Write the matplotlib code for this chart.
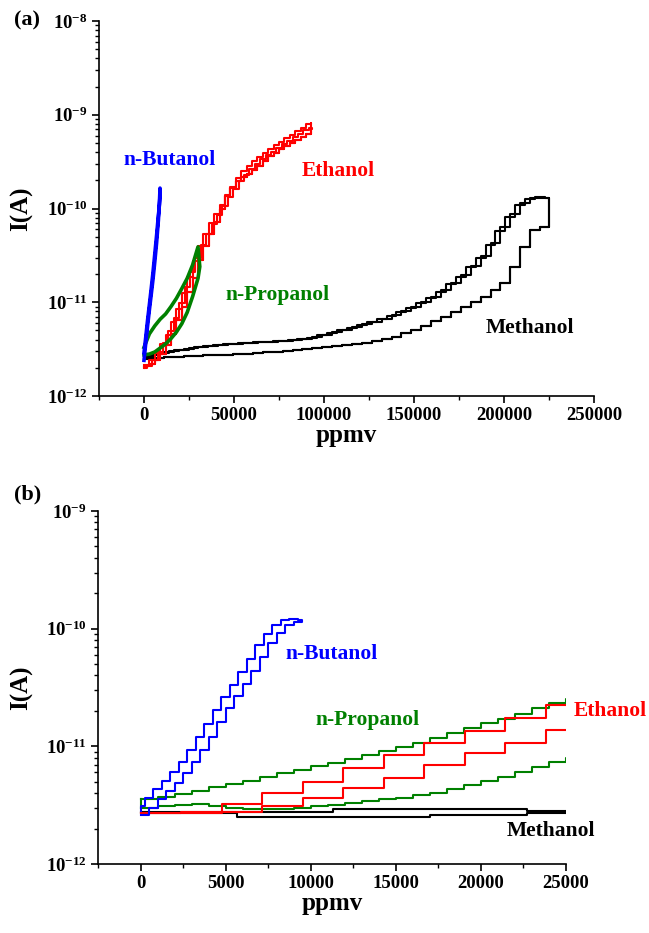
import numpy as np
import matplotlib
matplotlib.use('Agg')
import matplotlib.pyplot as plt
from matplotlib.ticker import (MultipleLocator, FixedLocator, LogLocator, FuncFormatter,
                               NullFormatter)

plt.rcParams['font.family'] = ['Liberation Serif', 'DejaVu Serif']
plt.rcParams['font.weight'] = 'bold'
plt.rcParams['mathtext.fontset'] = 'custom'
plt.rcParams['mathtext.rm'] = 'Liberation Serif:bold'
plt.rcParams['mathtext.bf'] = 'Liberation Serif:bold'
plt.rcParams['mathtext.it'] = 'Liberation Serif:bold:italic'

# ---------------- tick values ----------------
xticks_a = [0, 50000, 100000, 150000, 200000, 250000]
yticks_a = [1e-12, 1e-11, 1e-10, 1e-9, 1e-8]
xticks_b = [0, 5000, 10000, 15000, 20000, 25000]
yticks_b = [1e-12, 1e-11, 1e-10, 1e-9]

# ---------------- Panel (a) data ----------------
meth_a_up1_x = [0, 5500, 11000, 16500, 22000, 27500, 33000, 38500, 44000, 49500, 55000, 60500,
                66000, 71500, 77000, 82500, 88000, 93500, 99000, 104500, 110000, 115500, 121000,
                126500, 132000, 137500, 143000, 148500, 154000, 159500, 165000, 170500, 176000,
                181500, 187000, 192500, 198000, 203500, 209000, 214500, 220000, 225000]
meth_a_up1_y = [2.7e-12, 2.82e-12, 2.95e-12, 3.08e-12, 3.2e-12, 3.3e-12, 3.4e-12, 3.48e-12,
                3.55e-12, 3.62e-12, 3.7e-12, 3.75e-12, 3.8e-12, 3.85e-12, 3.9e-12, 3.97e-12,
                4.05e-12, 4.25e-12, 4.5e-12, 4.8e-12, 5.1e-12, 5.45e-12, 5.8e-12, 6.2e-12, 6.7e-12,
                7.3e-12, 8.0e-12, 8.9e-12, 1.0e-11, 1.15e-11, 1.35e-11, 1.6e-11, 1.95e-11, 2.45e-11,
                3.1e-11, 4.3e-11, 6.3e-11, 8.7e-11, 1.15e-10, 1.28e-10, 1.3e-10, 1.22e-10]
meth_a_down_x = [225000, 220000, 214500, 209000, 203500, 198000, 192500, 187000, 181500, 176000,
                 170500, 165000, 159500, 154000, 148500, 143000, 137500, 132000, 126500, 121000,
                 115500, 110000, 104500, 99000, 93500, 88000, 82500, 77000, 71500, 66000, 60500,
                 55000, 49500, 44000, 38500, 33000, 27500, 22000, 16500, 11000, 5500, 0]
meth_a_down_y = [6.3e-11, 5.9e-11, 3.9e-11, 2.4e-11, 1.6e-11, 1.35e-11, 1.13e-11, 1.0e-11,
                 9.0e-12, 7.8e-12, 7.0e-12, 6.3e-12, 5.6e-12, 5.1e-12, 4.7e-12, 4.3e-12, 4.05e-12,
                 3.85e-12, 3.7e-12, 3.57e-12, 3.47e-12, 3.38e-12, 3.3e-12, 3.23e-12, 3.16e-12,
                 3.1e-12, 3.04e-12, 2.98e-12, 2.93e-12, 2.88e-12, 2.84e-12, 2.8e-12, 2.77e-12,
                 2.75e-12, 2.72e-12, 2.7e-12, 2.66e-12, 2.62e-12, 2.58e-12, 2.55e-12, 2.52e-12,
                 2.5e-12]
meth_a_up2_x = [2750, 8250, 13750, 19250, 24750, 30250, 35750, 41250, 46750, 52250, 57750, 63250,
                68750, 74250, 79750, 85250, 90750, 96250, 101750, 107250, 112750, 118250, 123750,
                129250, 134750, 140250, 145750, 151250, 156750, 162250, 167750, 173250, 178750,
                184250, 189750, 195250, 200750, 206250, 211750, 217250, 222500, 225000]
meth_a_up2_y = [2.72e-12, 2.86e-12, 3.0e-12, 3.12e-12, 3.24e-12, 3.34e-12, 3.43e-12, 3.5e-12,
                3.57e-12, 3.64e-12, 3.7e-12, 3.75e-12, 3.8e-12, 3.86e-12, 3.93e-12, 4.02e-12,
                4.18e-12, 4.42e-12, 4.7e-12, 5.0e-12, 5.35e-12, 5.7e-12, 6.1e-12, 6.55e-12, 7.1e-12,
                7.8e-12, 8.7e-12, 9.8e-12, 1.12e-11, 1.3e-11, 1.55e-11, 1.88e-11, 2.35e-11, 3.0e-11,
                4.1e-11, 5.8e-11, 8.2e-11, 1.08e-10, 1.25e-10, 1.32e-10, 1.28e-10, 1.2e-10]

eth_a_up1_x = [0, 3000, 6000, 9000, 12000, 15000, 18000, 21000, 24000, 27000, 30000, 33000,
               36000, 39000, 42000, 45000, 48000, 51000, 54000, 57000, 60000, 63000, 66000,
               69000, 72000, 75000, 78000, 81000, 84000, 87000, 90000, 93000]
eth_a_up1_y = [2.15e-12, 2.4e-12, 2.9e-12, 3.6e-12, 4.5e-12, 6.2e-12, 8.5e-12, 1.25e-11, 1.85e-11,
               2.75e-11, 4.0e-11, 5.4e-11, 7.0e-11, 8.8e-11, 1.1e-10, 1.38e-10, 1.7e-10, 2.1e-10,
               2.5e-10, 2.85e-10, 3.2e-10, 3.55e-10, 3.9e-10, 4.3e-10, 4.7e-10, 5.1e-10, 5.6e-10,
               6.1e-10, 6.7e-10, 7.3e-10, 8.0e-10, 8.2e-10]
eth_a_down_x = [93000, 90000, 87000, 84000, 81000, 78000, 75000, 72000, 69000, 66000, 63000,
                60000, 57000, 54000, 51000, 48000, 45000, 42000, 39000, 36000, 33000, 30000,
                27000, 24000, 21000, 18000, 15000, 12000, 9000, 6000, 3000, 0]
eth_a_down_y = [6.2e-10, 5.8e-10, 5.4e-10, 5.0e-10, 4.65e-10, 4.3e-10, 3.95e-10, 3.6e-10, 3.2e-10,
                2.85e-10, 2.6e-10, 2.35e-10, 2.15e-10, 1.95e-10, 1.65e-10, 1.35e-10, 1.0e-10,
                7.2e-11, 5.4e-11, 4.0e-11, 2.8e-11, 1.8e-11, 1.3e-11, 9.0e-12, 6.4e-12, 4.6e-12,
                3.5e-12, 2.8e-12, 2.45e-12, 2.2e-12, 2.1e-12, 2.0e-12]
eth_a_up2_x = [1500, 4500, 7500, 10500, 13500, 16500, 19500, 22500, 25500, 28500, 31500, 34500,
               37500, 40500, 43500, 46500, 49500, 52500, 55500, 58500, 61500, 64500, 67500,
               70500, 73500, 76500, 79500, 82500, 85500, 88500, 91500, 93500]
eth_a_up2_y = [2.1e-12, 2.45e-12, 2.95e-12, 3.7e-12, 4.9e-12, 6.8e-12, 9.8e-12, 1.45e-11, 2.1e-11,
               3.0e-11, 4.1e-11, 5.4e-11, 6.9e-11, 8.6e-11, 1.07e-10, 1.32e-10, 1.6e-10, 1.95e-10,
               2.3e-10, 2.65e-10, 3.0e-10, 3.35e-10, 3.7e-10, 4.05e-10, 4.45e-10, 4.85e-10,
               5.3e-10, 5.8e-10, 6.3e-10, 6.8e-10, 7.2e-10, 7.0e-10]

prop_a_up_x = [0, 3000, 6000, 9000, 12000, 15000, 18000, 21000, 24000, 27000, 30000]
prop_a_up_y = [3.3e-12, 4.6e-12, 5.6e-12, 6.6e-12, 7.5e-12, 9.0e-12, 1.1e-11, 1.4e-11, 1.8e-11,
               2.5e-11, 3.9e-11]
prop_a_down_x = [31000, 30000, 27000, 24000, 21000, 18000, 15000, 12000, 9000, 6000, 3000, 0]
prop_a_down_y = [2.4e-11, 1.8e-11, 1.15e-11, 7.8e-12, 5.9e-12, 4.8e-12, 4.1e-12, 3.6e-12, 3.25e-12,
                 2.95e-12, 2.8e-12, 2.75e-12]

but_a_up_x = [0, 1000, 2000, 3000, 4000, 5000, 6000, 7000, 8000, 8600, 8900]
but_a_up_y = [2.4e-12, 3.7e-12, 5.6e-12, 8.3e-12, 1.2e-11, 1.75e-11, 2.7e-11, 4.3e-11, 7.5e-11,
              1.2e-10, 1.65e-10]
but_a_down_x = [8900, 8600, 8000, 7000, 6000, 5000, 4000, 3000, 2000, 1000, 0]
but_a_down_y = [1.4e-10, 1.1e-10, 8.5e-11, 5.2e-11, 3.3e-11, 2.1e-11, 1.4e-11, 9.5e-12, 6.5e-12,
                4.3e-12, 2.9e-12]

# ---------------- Panel (b) data ----------------
but_b_up_x = [0, 500, 1000, 1500, 2000, 2500, 3000, 3500, 4000, 4500, 5000, 5500, 6000, 6500,
              7000, 7500, 8000, 8500, 9000, 9500]
but_b_up_y = [2.6e-12, 3.0e-12, 3.55e-12, 4.15e-12, 4.9e-12, 5.95e-12, 7.4e-12, 9.3e-12, 1.2e-11,
              1.6e-11, 2.1e-11, 2.7e-11, 3.4e-11, 4.4e-11, 5.7e-11, 7.5e-11, 9.2e-11, 1.07e-10,
              1.15e-10, 1.19e-10]
but_b_down_x = [9250, 8750, 8250, 7750, 7250, 6750, 6250, 5750, 5250, 4750, 4250, 3750, 3250,
                2750, 2250, 1750, 1250, 750, 250, 0]
but_b_down_y = [1.21e-10, 1.18e-10, 1.08e-10, 9.0e-11, 7.2e-11, 5.55e-11, 4.3e-11, 3.35e-11,
                2.65e-11, 2.05e-11, 1.56e-11, 1.19e-11, 9.3e-12, 7.4e-12, 6.05e-12, 5.05e-12,
                4.3e-12, 3.65e-12, 3.1e-12, 2.8e-12]

prop_b_x = [0, 1000, 2000, 3000, 4000, 5000, 6000, 7000, 8000, 9000, 10000, 11000, 12000, 13000,
            14000, 15000, 16000, 17000, 18000, 19000, 20000, 21000, 22000, 23000, 24000, 25000, 26000]
prop_b_upper = [3.6e-12, 3.7e-12, 3.95e-12, 4.2e-12, 4.5e-12, 4.8e-12, 5.1e-12, 5.5e-12, 5.9e-12,
                6.3e-12, 6.8e-12, 7.2e-12, 7.8e-12, 8.5e-12, 9.2e-12, 9.8e-12, 1.07e-11, 1.17e-11,
                1.29e-11, 1.42e-11, 1.57e-11, 1.72e-11, 1.9e-11, 2.13e-11, 2.35e-11, 2.52e-11, 2.6e-11]
prop_b_lower = [3.0e-12, 3.1e-12, 3.2e-12, 3.25e-12, 3.1e-12, 3.0e-12, 2.95e-12, 2.95e-12, 2.95e-12,
                3.0e-12, 3.1e-12, 3.2e-12, 3.3e-12, 3.4e-12, 3.55e-12, 3.65e-12, 3.85e-12, 4.05e-12,
                4.35e-12, 4.65e-12, 5.1e-12, 5.5e-12, 6.1e-12, 6.7e-12, 7.4e-12, 8.0e-12, 8.3e-12]

eth_b_x = [0, 2380, 4760, 7140, 9520, 11900, 14280, 16660, 19040, 21420, 23800, 26000]
eth_b_upper = [2.72e-12, 2.75e-12, 3.26e-12, 4.05e-12, 5.0e-12, 6.5e-12, 8.5e-12, 1.06e-11,
               1.34e-11, 1.73e-11, 2.24e-11, 2.24e-11]
eth_b_lower = [2.7e-12, 2.72e-12, 2.75e-12, 3.13e-12, 3.66e-12, 4.46e-12, 5.43e-12, 6.89e-12,
               8.7e-12, 1.06e-11, 1.37e-11, 1.37e-11]

meth_b_lower_x = [0, 5650, 17000, 22700, 26000]
meth_b_lower_y = [2.72e-12, 2.53e-12, 2.62e-12, 2.7e-12, 2.7e-12]
meth_b_upper_x = [0, 11300, 22700, 26000]
meth_b_upper_y = [2.75e-12, 2.92e-12, 2.82e-12, 2.82e-12]

BLUE, RED, GREEN, BLACK = '#0000ff', '#ff0000', '#008000', '#000000'

W, H = 649, 933
fig = plt.figure(figsize=(W / 100, H / 100), dpi=100)


def px_axes(l, t, r, b):
    return [l / W, 1 - b / H, (r - l) / W, (b - t) / H]


ax1 = fig.add_axes(px_axes(99, 21, 594, 396))
ax2 = fig.add_axes(px_axes(98, 511, 566, 864))


def style(ax, xlim, ylim, xticks, xminor, yticks):
    ax.set_yscale('log')
    ax.set_xlim(*xlim)
    ax.set_ylim(*ylim)
    for s in ['top', 'right']:
        ax.spines[s].set_visible(False)
    for s in ['left', 'bottom']:
        ax.spines[s].set_linewidth(1.2)
    ax.xaxis.set_major_locator(FixedLocator(xticks))
    ax.xaxis.set_minor_locator(MultipleLocator(xminor))
    ax.xaxis.set_major_formatter(FuncFormatter(lambda v, p: '%d' % round(v)))
    ax.yaxis.set_major_locator(FixedLocator(yticks))
    ax.yaxis.set_minor_locator(LogLocator(base=10, subs=np.arange(2, 10), numticks=20))
    ax.yaxis.set_minor_formatter(NullFormatter())
    ax.yaxis.set_major_formatter(FuncFormatter(lambda v, p: r'$\mathbf{10^{%d}}$' % round(np.log10(v))))
    ax.tick_params(which='major', direction='out', length=5, width=1.2, labelsize=13.5, pad=3)
    ax.tick_params(which='minor', direction='out', length=3, width=1.0)
    ax.set_xlabel('ppmv', fontsize=18, fontweight='bold', labelpad=0)
    ax.set_ylabel('I(A)', fontsize=18, fontweight='bold')


style(ax1, (-25000, 250000), (1e-12, 1e-8), xticks_a, 25000, yticks_a)
style(ax2, (-2500, 25000), (1e-12, 1e-9), xticks_b, 2500, yticks_b)
ax1.yaxis.set_label_coords(-0.133, 0.5)
ax2.yaxis.set_label_coords(-0.139, 0.5)

LW = 1.5
# panel (a)
mx = meth_a_up1_x + meth_a_down_x + meth_a_up2_x + meth_a_down_x
my = meth_a_up1_y + meth_a_down_y + meth_a_up2_y + meth_a_down_y
ax1.plot(mx, my, color=BLACK, lw=LW, drawstyle='steps-post')
ex = eth_a_up1_x + eth_a_down_x + eth_a_up2_x + eth_a_down_x
ey = eth_a_up1_y + eth_a_down_y + eth_a_up2_y + eth_a_down_y
ax1.plot(ex, ey, color=RED, lw=LW, drawstyle='steps-post')
ax1.plot(prop_a_up_x + prop_a_down_x, prop_a_up_y + prop_a_down_y, color=GREEN, lw=2.6)
ax1.plot(but_a_up_x + but_a_down_x, but_a_up_y + but_a_down_y, color=BLUE, lw=2.6)

# panel (b)
ax2.plot(meth_b_lower_x, meth_b_lower_y, color=BLACK, lw=LW, drawstyle='steps-post')
ax2.plot(meth_b_upper_x, meth_b_upper_y, color=BLACK, lw=LW, drawstyle='steps-post')
ax2.plot(prop_b_x, prop_b_upper, color=GREEN, lw=LW, drawstyle='steps-post')
ax2.plot(prop_b_x, prop_b_lower, color=GREEN, lw=LW, drawstyle='steps-post')
ax2.plot([0, 0], [prop_b_lower[0], prop_b_upper[0]], color=GREEN, lw=LW)
ax2.plot(eth_b_x, eth_b_lower, color=RED, lw=LW, drawstyle='steps-post')
ax2.plot(eth_b_x, eth_b_upper, color=RED, lw=LW, drawstyle='steps-post')
ax2.plot(but_b_up_x + but_b_down_x, but_b_up_y + but_b_down_y, color=BLUE, lw=LW,
         drawstyle='steps-post')


def ftext(x, y, s, color, size=15.5):
    fig.text(x / W, 1 - y / H, s, ha='center', va='center', color=color,
             fontsize=size, fontweight='bold')


ftext(27, 20, '(a)', BLACK, 16)
ftext(28, 494, '(b)', BLACK, 16)
ftext(170, 160, 'n-Butanol', BLUE)
ftext(338, 171, 'Ethanol', RED)
ftext(278, 295, 'n-Propanol', GREEN)
ftext(530, 328, 'Methanol', BLACK)
ftext(332, 654, 'n-Butanol', BLUE)
ftext(368, 720, 'n-Propanol', GREEN)
ftext(610, 711, 'Ethanol', RED)
ftext(551, 831, 'Methanol', BLACK)

fig.savefig('out.png', dpi=100)
